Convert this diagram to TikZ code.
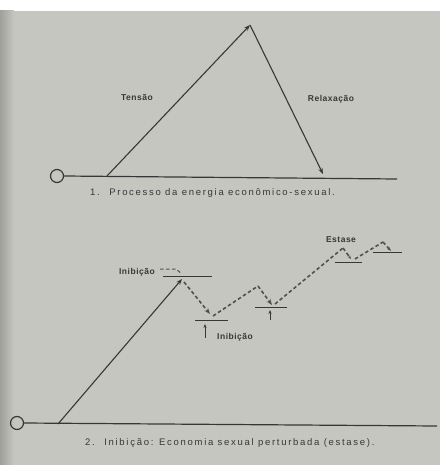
\documentclass[tikz,border=0pt]{standalone}
\usepackage{fontspec}
\setmainfont{Liberation Sans}
\newfontfamily\capfont[LetterSpace=18]{Liberation Sans}
\newfontfamily\lblfont[LetterSpace=6]{Liberation Sans}
\usetikzlibrary{arrows.meta}
\definecolor{paper}{RGB}{198,198,192}
\definecolor{paperdark}{RGB}{160,160,154}
\definecolor{ink}{RGB}{55,55,55}
\definecolor{dink}{RGB}{80,80,80}
\begin{document}
\begin{tikzpicture}[x=1pt,y=-1pt,
  solidln/.style={draw=ink, line width=1.1pt},
  baseln/.style={draw=ink, line width=1.2pt},
  dline/.style={draw=dink, line width=1.6pt, dash pattern=on 3.5pt off 2.5pt},
  barln/.style={draw=ink, line width=1pt},
  arrtip/.style={-{Stealth[length=6pt,width=4.5pt]}},
  sarrtip/.style={-{Stealth[length=4pt,width=3pt]}},
  zero/.style={circle, draw=ink, line width=1.2pt, minimum size=13pt, inner sep=0pt},
  lbl/.style={font=\lblfont\bfseries\fontsize{8.5}{9}\selectfont, text=ink, inner sep=0pt},
  captxt/.style={font=\capfont\fontsize{9.5}{10}\selectfont, text=ink, inner sep=0pt}]
\useasboundingbox (0,0) rectangle (440,465);
\fill[white] (0,0) rectangle (440,465);
\fill[paper] (0,11) rectangle (440,465);
\shade[left color=paperdark, right color=paper] (0,11) rectangle (14,465);

% ---- figure 1 ----
\node[zero] (o1) at (57,176) {};
\coordinate (b1s) at (107,176);
\coordinate (b1e) at (397,179);
\coordinate (apex) at (250,25);
\coordinate (r1) at (323,174);
\draw[baseln] (o1.east) -- (b1e);
\draw[solidln, arrtip] (b1s) -- (apex);
\draw[solidln, arrtip] (apex) -- (r1);
\node[lbl] (tensao) at (137,97) {Tensão};
\node[lbl] (relax) at (331,99) {Relaxação};
\node[captxt, anchor=west] (cap1) at (90,193) {1.\quad Processo da energia econômico-sexual.};

% ---- figure 2 ----
\node[zero] (o2) at (17,423) {};
\coordinate (b2s) at (58,424);
\coordinate (b2e) at (437,426);
\draw[baseln] (o2.east) -- (b2e);
\coordinate (t1) at (182,279);
\draw[solidln, arrtip] (b2s) -- (t1);
% bar 1 and inhibition mark
\coordinate (bar1a) at (163,276); \coordinate (bar1b) at (212,276);
\draw[barln] (bar1a) -- (bar1b);
\coordinate (k1) at (160,269); \coordinate (k2) at (176,269); \coordinate (k3) at (182,274);
\draw[dline, line width=1pt] (k1) -- (k2) -- (k3);
\node[lbl, anchor=east] (inib1) at (155,272) {Inibição};
% drop 1
\coordinate (d1s) at (184,282); \coordinate (d1e) at (210,314);
\draw[dline, arrtip] (d1s) -- (d1e);
\coordinate (bar2a) at (195,320); \coordinate (bar2b) at (228,320);
\draw[barln] (bar2a) -- (bar2b);
\coordinate (u2s) at (205,338); \coordinate (u2e) at (205,324);
\draw[barln, sarrtip] (u2s) -- (u2e);
\node[lbl, anchor=west] (inib2) at (217,337) {Inibição};
% rise 2, drop 2
\coordinate (r2s) at (213,316); \coordinate (p2) at (258,286); \coordinate (d2e) at (272,305);
\draw[dline] (r2s) -- (p2);
\draw[dline, arrtip] (p2) -- (d2e);
\coordinate (bar3a) at (255,307); \coordinate (bar3b) at (287,307);
\draw[barln] (bar3a) -- (bar3b);
\coordinate (u3s) at (270,320); \coordinate (u3e) at (270,310);
\draw[barln, sarrtip] (u3s) -- (u3e);
% rise 3, drop 3
\coordinate (r3s) at (275,304); \coordinate (p3) at (343,248); \coordinate (d3e) at (351,259);
\draw[dline] (r3s) -- (p3);
\draw[dline, sarrtip] (p3) -- (d3e);
\coordinate (bar4a) at (335,262); \coordinate (bar4b) at (362,262);
\draw[barln] (bar4a) -- (bar4b);
\node[lbl] (estase) at (341,240) {Estase};
% rise 4, drop 4
\coordinate (r4s) at (355,259); \coordinate (p4) at (383,242); \coordinate (d4e) at (391,251);
\draw[dline] (r4s) -- (p4);
\draw[dline, sarrtip] (p4) -- (d4e);
\coordinate (bar5a) at (373,252); \coordinate (bar5b) at (402,252);
\draw[barln] (bar5a) -- (bar5b);

\node[captxt, anchor=west] (cap2) at (85,443) {2.\quad Inibição: Economia sexual perturbada (estase).};
\end{tikzpicture}
\end{document}
